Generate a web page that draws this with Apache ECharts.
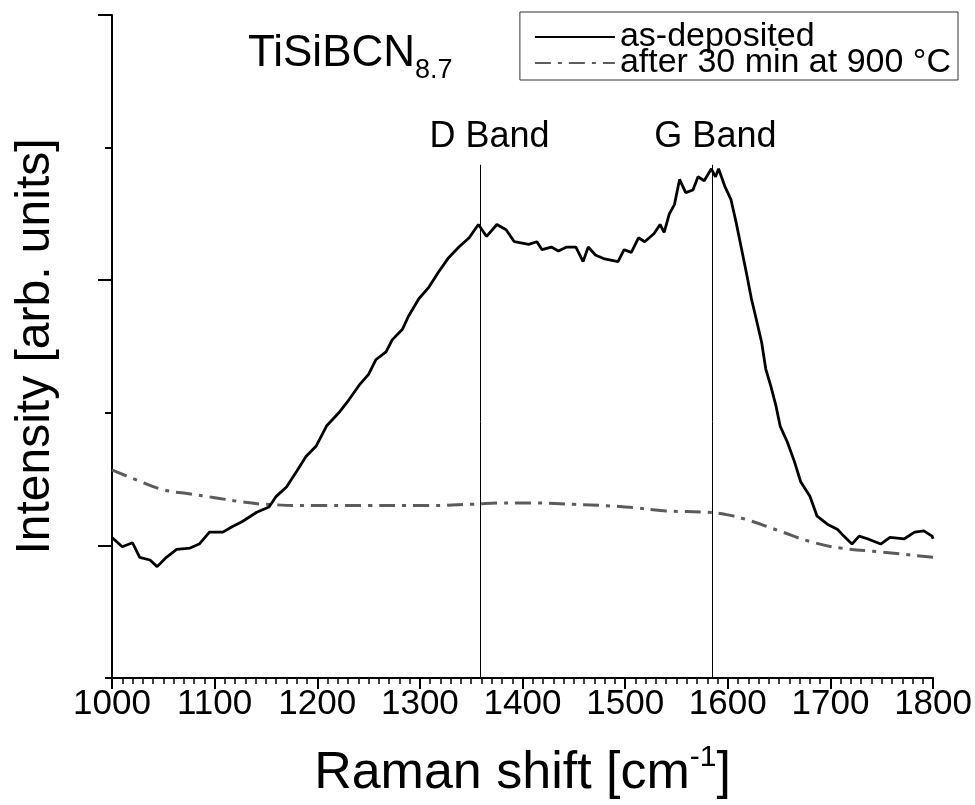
<!DOCTYPE html>
<html>
<head>
<meta charset="utf-8">
<script src="https://cdn.jsdelivr.net/npm/echarts@6/dist/echarts.min.js"></script>
<style>
  html, body { margin: 0; padding: 0; background: #fff; }
  #raman-echart { width: 975px; height: 805px; }
</style>
</head>
<body>
<div id="raman-echart"></div>
<script>
// as-deposited spectrum
const asDepShift = [1000, 1010, 1020, 1027, 1037, 1044, 1053, 1063, 1076, 1085, 1095, 1108, 1117, 1127, 1141, 1153,
  1160, 1170, 1180, 1189, 1199, 1209, 1221, 1231, 1241, 1250, 1257, 1267, 1273, 1283, 1289, 1299, 1309, 1318, 1328,
  1338, 1348, 1357, 1365, 1375, 1384, 1392, 1406, 1414, 1419, 1428, 1435, 1443, 1452, 1459, 1464, 1471, 1480, 1493,
  1499, 1506, 1513, 1519, 1528, 1534, 1538, 1543, 1548, 1553, 1559, 1566, 1571, 1577, 1584, 1588, 1591, 1597, 1603,
  1608, 1613, 1618, 1623, 1627, 1633, 1637, 1642, 1647, 1651, 1658, 1665, 1671, 1680, 1687, 1697, 1707, 1713, 1721,
  1728, 1736, 1749, 1758, 1772, 1782, 1791, 1799, 1800];
const asDepIntensity = [0.06, -0.01, 0.02, -0.09, -0.11, -0.16, -0.09, -0.03, -0.02, 0.01, 0.10, 0.10, 0.14, 0.18, 0.25, 0.29,
  0.37, 0.44, 0.56, 0.67, 0.75, 0.90, 1.00, 1.10, 1.21, 1.29, 1.40, 1.46, 1.55, 1.63, 1.73, 1.86, 1.95, 2.06, 2.17,
  2.25, 2.32, 2.42, 2.33, 2.42, 2.38, 2.29, 2.27, 2.29, 2.23, 2.25, 2.22, 2.25, 2.25, 2.14, 2.25, 2.19, 2.16, 2.14,
  2.23, 2.21, 2.32, 2.29, 2.35, 2.42, 2.36, 2.50, 2.57, 2.76, 2.66, 2.68, 2.78, 2.75, 2.84, 2.78, 2.84, 2.71, 2.61,
  2.44, 2.25, 2.06, 1.86, 1.73, 1.53, 1.33, 1.20, 1.05, 0.90, 0.78, 0.63, 0.48, 0.37, 0.22, 0.16, 0.12, 0.07, 0.01,
  0.07, 0.05, 0.01, 0.06, 0.05, 0.10, 0.11, 0.07, 0.05];

// after 30 min at 900 °C
const annealShift = [1000, 1025, 1050, 1075, 1100, 1125, 1150, 1200, 1250, 1300, 1350, 1380, 1400, 1450, 1500,
  1540, 1580, 1600, 1620, 1650, 1680, 1710, 1750, 1800];
const annealIntensity = [0.57, 0.49, 0.42, 0.39, 0.36, 0.33, 0.31, 0.30, 0.30, 0.30, 0.31, 0.32, 0.32, 0.31, 0.29,
  0.26, 0.25, 0.23, 0.19, 0.11, 0.03, -0.02, -0.05, -0.09];

// band markers
const bandNames = ['D Band', 'G Band'];
const bandPositions = [1359, 1585];
const bandLabelShift = [9, 3];
const bandLineTop = 2.87;

const majorTicksY = [0, 2, 4];
const minorTicksY = [-1, 1, 3];

const seriesNames = ['as-deposited', 'after 30 min at 900 °C'];

const font = 'Liberation Sans, Arial, sans-serif';

function pairs(xs, ys) {
  return xs.map((x, i) => [x, ys[i]]);
}

const echart = echarts.init(document.getElementById('raman-echart'));

echart.setOption({
  animation: false,
  backgroundColor: '#fff',
  grid: { left: 112, right: 39, top: 15, bottom: 126 },
  legend: {
    data: seriesNames,
    orient: 'vertical',
    right: 17,
    top: 12,
    padding: [8, 7, 0, 14],
    itemGap: -8,
    itemWidth: 80,
    itemHeight: 14,
    borderColor: '#333',
    borderWidth: 1,
    borderRadius: 0,
    itemStyle: { opacity: 0 },
    textStyle: { fontFamily: font, fontSize: 34, color: '#000' }
  },
  xAxis: {
    type: 'value',
    min: 1000,
    max: 1800,
    interval: 100,
    name: '{a|Raman shift [cm}{s|-1}{a|]}',
    nameLocation: 'middle',
    nameGap: 64,
    nameTextStyle: {
      rich: {
        a: { fontFamily: font, fontSize: 52, color: '#000', lineHeight: 58, verticalAlign: 'bottom' },
        s: { fontFamily: font, fontSize: 30, color: '#000', lineHeight: 30, padding: [0, 0, 27, 0], verticalAlign: 'bottom' }
      }
    },
    axisLine: { onZero: false, lineStyle: { color: '#000', width: 2 } },
    axisTick: { length: 11, lineStyle: { color: '#000', width: 2 } },
    minorTick: { show: true, splitNumber: 10, length: 6, lineStyle: { color: '#000', width: 1.5 } },
    axisLabel: { fontFamily: font, fontSize: 35, color: '#000', margin: 9, formatter: (v) => String(v) },
    splitLine: { show: false }
  },
  yAxis: [
    {
      type: 'value',
      min: -1,
      max: 4,
      interval: 1,
      name: 'Intensity [arb. units]',
      nameLocation: 'middle',
      nameGap: 52,
      nameTextStyle: { fontFamily: font, fontSize: 48, color: '#000' },
      axisLine: { show: true, onZero: false, lineStyle: { color: '#000', width: 2 } },
      axisTick: { show: true, customValues: majorTicksY, length: 14, lineStyle: { color: '#000', width: 2 } },
      axisLabel: { show: false },
      splitLine: { show: false }
    },
    {
      type: 'value',
      min: -1,
      max: 4,
      interval: 1,
      position: 'left',
      axisLine: { show: false, onZero: false },
      axisTick: { show: true, customValues: minorTicksY, length: 7, lineStyle: { color: '#000', width: 2 } },
      axisLabel: { show: false },
      splitLine: { show: false }
    }
  ],
  graphic: [
    {
      type: 'text',
      left: 248,
      top: 32,
      style: {
        text: '{a|TiSiBCN}{b|8.7}',
        rich: {
          a: { fontFamily: font, fontSize: 44, fill: '#000', lineHeight: 44, verticalAlign: 'top' },
          b: { fontFamily: font, fontSize: 27, fill: '#000', lineHeight: 27, padding: [25, 0, 0, 0], verticalAlign: 'top' }
        }
      }
    }
  ],
  series: [
    {
      name: seriesNames[0],
      type: 'line',
      data: pairs(asDepShift, asDepIntensity),
      symbol: 'none',
      lineStyle: { color: '#000', width: 2.8 },
      itemStyle: { color: '#000' },
      z: 3,
      markLine: {
        silent: true,
        symbol: 'none',
        lineStyle: { color: '#000', width: 1, type: 'solid' },
        label: {
          show: true,
          position: 'start',
          distance: 10,
          fontFamily: font,
          fontSize: 36,
          color: '#000',
          formatter: (p) => p.name
        },
        data: bandPositions.map((b, i) => [
          { name: bandNames[i], coord: [b, bandLineTop], label: { offset: [bandLabelShift[i], 0] } },
          { coord: [b, -1] }
        ])
      }
    },
    {
      name: seriesNames[1],
      type: 'line',
      data: pairs(annealShift, annealIntensity),
      smooth: true,
      symbol: 'none',
      lineStyle: { color: '#5c5c5c', width: 3, type: [16, 7, 4, 7] },
      itemStyle: { color: '#5c5c5c' },
      z: 2
    }
  ]
});
</script>
</body>
</html>
